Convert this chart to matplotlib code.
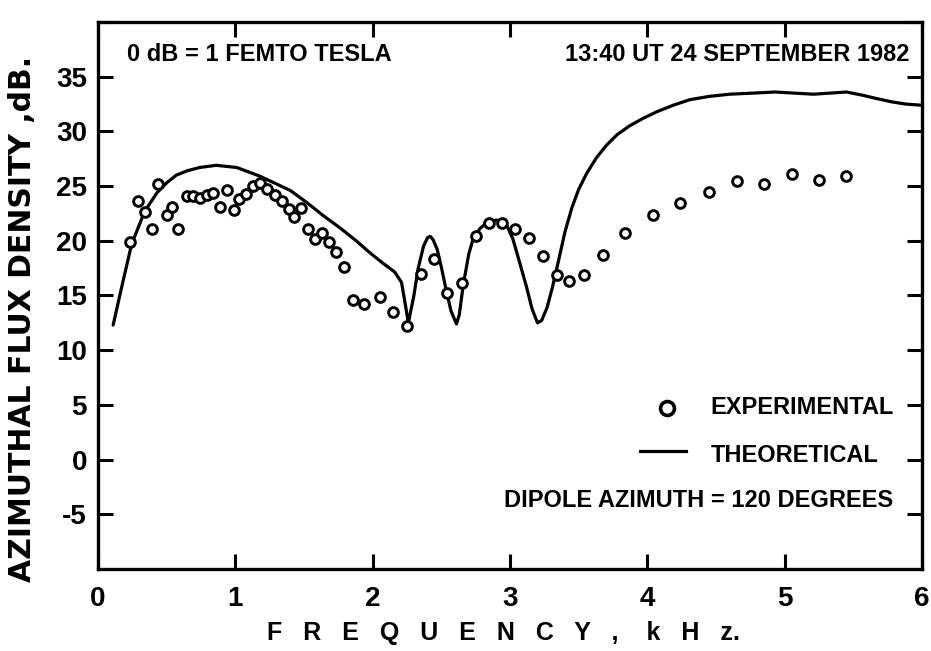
import matplotlib
matplotlib.use("Agg")
import matplotlib.pyplot as plt

plt.rcParams["font.family"] = ["Liberation Sans", "DejaVu Sans"]
plt.rcParams["font.weight"] = "bold"
plt.rcParams["axes.unicode_minus"] = False

# Theoretical azimuthal flux density (dB re 1 fT) vs frequency (kHz)
theory_freq = [0.11, 0.18, 0.245, 0.34, 0.43, 0.50, 0.57, 0.65, 0.74, 0.86,
               1.01, 1.18, 1.40, 1.52, 1.64, 1.76, 1.88, 1.98, 2.08, 2.16,
               2.21, 2.24, 2.26, 2.30, 2.33, 2.37, 2.40, 2.42, 2.44, 2.47,
               2.50, 2.53, 2.57, 2.61, 2.63, 2.66, 2.70, 2.73, 2.78, 2.83,
               2.90, 2.95, 2.98, 3.02, 3.05, 3.12, 3.16, 3.20, 3.23, 3.27,
               3.31, 3.35, 3.40, 3.45, 3.50, 3.56, 3.63, 3.70, 3.78, 3.87,
               3.97, 4.07, 4.19, 4.31, 4.45, 4.60, 4.77, 4.93, 5.07, 5.21,
               5.33, 5.45, 5.57, 5.67, 5.78, 5.88, 5.99]
theory_db = [12.3, 16.2, 19.7, 22.7, 24.4, 25.3, 26.0, 26.4, 26.7, 26.9,
             26.7, 25.9, 24.6, 23.5, 22.3, 21.2, 20.0, 18.9, 17.9, 17.15,
             16.2, 14.0, 12.5, 15.0, 17.4, 19.5, 20.3, 20.4, 20.1, 19.2,
             17.6, 15.8, 13.6, 12.4, 13.2, 16.0, 18.8, 20.1, 21.1, 21.65,
             21.9, 21.7, 21.3, 20.2, 18.9, 15.8, 13.8, 12.5, 12.7, 13.9,
             15.8, 18.0, 20.8, 23.0, 24.7, 26.2, 27.6, 28.7, 29.7, 30.5,
             31.2, 31.8, 32.4, 32.9, 33.2, 33.4, 33.5, 33.6, 33.5, 33.4,
             33.5, 33.6, 33.3, 33.0, 32.7, 32.5, 32.4]

# Measured values
exp_freq = [0.23, 0.29, 0.34, 0.39, 0.44, 0.50, 0.54, 0.58, 0.65, 0.69,
            0.74, 0.79, 0.84, 0.89, 0.94, 0.99, 1.03, 1.08, 1.13, 1.18,
            1.23, 1.29, 1.34, 1.39, 1.43, 1.48, 1.53, 1.58, 1.63, 1.68,
            1.73, 1.79, 1.86, 1.94, 2.05, 2.15, 2.25, 2.35, 2.45, 2.54,
            2.65, 2.75, 2.85, 2.94, 3.04, 3.14, 3.24, 3.34, 3.43, 3.54,
            3.68, 3.84, 4.04, 4.24, 4.45, 4.65, 4.85, 5.05, 5.25, 5.45]
exp_db = [19.9, 23.6, 22.6, 21.1, 25.2, 22.4, 23.1, 21.1, 24.1, 24.1,
          23.9, 24.2, 24.4, 23.1, 24.6, 22.8, 23.8, 24.3, 25.0, 25.3,
          24.7, 24.2, 23.6, 22.9, 22.2, 23.0, 21.1, 20.2, 20.7, 19.9,
          19.0, 17.6, 14.6, 14.2, 14.85, 13.5, 12.2, 17.0, 18.35, 15.2,
          16.1, 20.4, 21.65, 21.6, 21.1, 20.3, 18.6, 16.9, 16.3, 16.9,
          18.7, 20.7, 22.4, 23.5, 24.5, 25.5, 25.15, 26.1, 25.55, 25.9]

x_ticks = [0, 1, 2, 3, 4, 5, 6]
y_ticks = [-5, 0, 5, 10, 15, 20, 25, 30, 35, 40]
y_tick_labels = ["-5", "0", "5", "10", "15", "20", "25", "30", "35", ""]

fig = plt.figure(figsize=(9.31, 6.51), dpi=100)
ax = fig.add_axes([0.1053, 0.126, 0.885, 0.8402])

ax.plot(theory_freq, theory_db, color="black", lw=2.3,
        solid_capstyle="round", solid_joinstyle="round")
ax.plot(exp_freq, exp_db, linestyle="none", marker="o", ms=7,
        mfc="white", mec="black", mew=2.1)

ax.set_xlim(0, 6)
ax.set_ylim(-10, 40)
ax.set_xticks(x_ticks)
ax.set_xticklabels([str(v) for v in x_ticks])
ax.set_yticks(y_ticks)
ax.set_yticklabels(y_tick_labels)
ax.tick_params(direction="in", length=11, width=2.2, top=True, right=True,
               labelsize=20)
ax.tick_params(axis="x", pad=12)
ax.tick_params(axis="y", pad=8)
for s in ax.spines.values():
    s.set_linewidth(2.4)

txt = dict(fontsize=17, fontweight="bold", color="black")
ax.text(0.21, 37.0, "0 dB = 1 FEMTO TESLA", ha="left", va="center", **txt)
ax.text(5.91, 37.0, "13:40 UT 24 SEPTEMBER 1982", ha="right", va="center", **txt)

# key
ax.plot([4.14], [4.75], linestyle="none", marker="o", ms=10,
        mfc="white", mec="black", mew=2.6)
ax.text(4.46, 4.75, "EXPERIMENTAL", ha="left", va="center", **txt)
ax.plot([3.95, 4.28], [0.8, 0.8], color="black", lw=2.3)
ax.text(4.46, 0.35, "THEORETICAL", ha="left", va="center", **txt)
ax.text(5.79, -3.75, "DIPOLE AZIMUTH = 120 DEGREES", ha="right", va="center", **txt)

fig.text(0.024, 0.51, "AZIMUTHAL FLUX DENSITY ,dB.", rotation=90,
         ha="center", va="center", fontsize=21.5, fontweight="bold",
         family=["DejaVu Sans"])
fig.text(0.541, 0.028, "F   R   E   Q   U   E   N   C   Y   ,    k   H   z.",
         ha="center", va="center", fontsize=18, fontweight="bold")

fig.savefig("out.png", dpi=100)
